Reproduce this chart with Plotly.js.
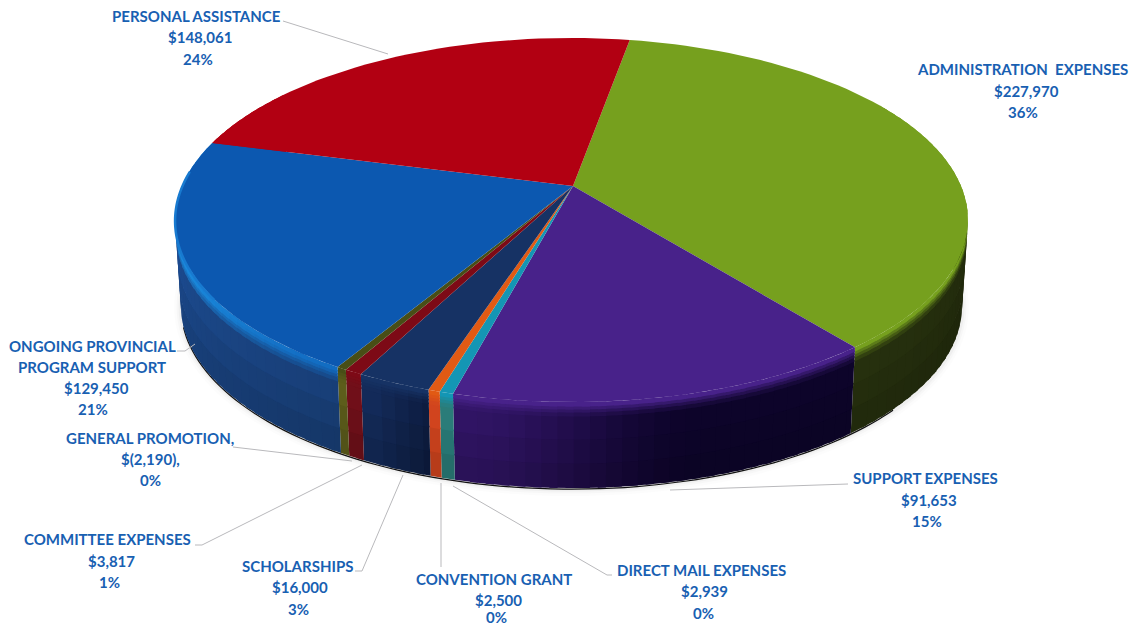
<!DOCTYPE html>
<html><head><meta charset="utf-8">
<script src="https://cdn.plot.ly/plotly-3.0.1.min.js"></script>
<style>html,body{margin:0;padding:0;background:#fff}#g{width:1135px;height:626px}</style>
</head><body><div id="g"></div>
<script>
// ---- data (clockwise from the red/green boundary)
const categories = ["ADMINISTRATION  EXPENSES","SUPPORT EXPENSES","DIRECT MAIL EXPENSES","CONVENTION GRANT","SCHOLARSHIPS","COMMITTEE EXPENSES","GENERAL PROMOTION,","ONGOING PROVINCIAL PROGRAM SUPPORT","PERSONAL ASSISTANCE"];
const values = [227970,91653,2939,2500,16000,3817,-2190,129450,148061];
const amounts = ["$227,970","$91,653","$2,939","$2,500","$16,000","$3,817","$(2,190),","$129,450","$148,061"];
const percents = ["36%","15%","0%","0%","3%","1%","0%","21%","24%"];
// ---- styles
const topColors = [[118,160,30],[72,34,138],[20,150,180],[225,90,20],[22,50,100],[125,10,22],[72,78,22],[12,88,176],[178,0,18]];
const wallFrom  = [[24,30,8],[13,4,42],[40,120,118],[205,66,30],[12,26,60],[105,14,24],[90,90,26],[24,62,118],[178,0,18]];
const wallTo    = [[38,48,14],[48,20,100],[44,128,124],[212,70,30],[20,44,92],[115,16,26],[96,96,28],[30,82,158],[178,0,18]];
// ---- projection of the tilted disc
const view = {cx:573, cy:186, rimShift:-1.5, A:389.5, B:175.7, k:0.187, depth:86, taper:0.015, start:10.2};
function pt(deg, z){
  const t = deg*Math.PI/180, u = Math.sin(t), v = Math.cos(t), w = 1+view.k*v;
  const s = 1-view.taper*z/view.depth;
  return [view.cx+view.rimShift+view.A*s*u/w, view.cy-view.B*v/w+z];
}
const mix=(a,b,f)=>a.map((c,i)=>c+(b[i]-c)*f);
const css=c=>`rgb(${c.map(Math.round).join(",")})`;
const sstep=(a,b,x)=>{const t=Math.min(1,Math.max(0,(x-a)/(b-a)));return t*t*(3-2*t)};
const total = values.reduce((s,x)=>s+Math.abs(x),0);
const traces=[];
function poly(pts,color){
  traces.push({type:"scatter",mode:"lines",x:pts.map(p=>p[0]),y:pts.map(p=>p[1]),fill:"toself",fillcolor:color,
    line:{color:color,width:0},hoverinfo:"skip",showlegend:false});
}
function path(pts,color,width){
  traces.push({type:"scatter",mode:"lines",x:pts.map(p=>p[0]),y:pts.map(p=>p[1]),line:{color:color,width:width,shape:"spline"},hoverinfo:"skip",showlegend:false});
}
// soft shadow and dark contact line below the wall
const edge=[];for(let a=70;a<=300;a+=3)edge.push(pt(a,view.depth+1));
[[14,"rgba(0,0,0,0.012)"],[9,"rgba(0,0,0,0.018)"],[5,"rgba(0,0,0,0.03)"]].forEach(d=>path(edge,d[1],d[0]));
path(edge.filter((p,i)=>i>20&&i<62),"#111",1.2);
// wedge angular ranges
let a0=view.start; const ranges=values.map(x=>{const a=a0;a0+=Math.abs(x)/total*360;return [a,a0]});
// walls: bands painted bottom first, each one overlapping the band below, so no seams show
const zBands=[[60,view.depth,0.88],[36,60,0.94],[13,36,1.0],[9,13,0.85],[6,9,0.6],[3,6,0.32],[0,3,0]];
ranges.forEach((r,i)=>{
  const lo=Math.max(r[0],60), hi=Math.min(r[1],305); if(hi<=lo) return;
  const n=Math.max(1,Math.ceil((hi-lo)/2));
  zBands.forEach((z,zi)=>{
    for(let j=0;j<n;j++){
      const a=lo+(hi-lo)*j/n, b=lo+(hi-lo)*(j+1)/n, m=(a+b)/2, f=(m-r[0])/(r[1]-r[0]);
      const wall=mix(wallFrom[i],wallTo[i],i===1?sstep(0.45,1,f):f);
      const glow=sstep(205,255,m);
      const lit=mix(topColors[i],[28,140,222],i===7?0.35+glow*0.65:0);
      let c;
      if(zi<3) c=wall.map(q=>q*z[2]);
      else {
        // blue keeps its bright edge deeper down the bevel
        const w=i===7?Math.max(0,z[2]-0.32*(0.3+glow)):z[2];
        c=mix(lit,wall,w);
      }
      const a2=j>0?a-1:a, z2=z[1]===view.depth?z[1]:z[1]+1.5;
      poly([pt(a2,z[0]),pt(b,z[0]),pt(b,z2),pt(a2,z2)],css(c));
    }
  });
});
// top face
ranges.forEach((r,i)=>{
  const pts=[[view.cx,view.cy]];
  const n=Math.max(2,Math.ceil((r[1]-r[0])/2));
  for(let j=0;j<=n;j++)pts.push(pt(r[0]+(r[1]-r[0])*j/n,0));
  pts.push([view.cx,view.cy]);
  poly(pts,css(topColors[i]));
});
// bright edge on the blue wedge
const arc=[];for(let a=235;a<=ranges[7][1]-8;a+=2)arc.push(pt(a,1));
path(arc,"rgb(24,122,208)",2.5);

// ---- label lines: [category index, text, x, y]
const lineText=[
 [0,categories[0],1022,69],[0,amounts[0],1026,91],[0,percents[0],1023,112],
 [1,categories[1],925,478],[1,amounts[1],929,500],[1,percents[1],927,521],
 [2,categories[2],701,570],[2,amounts[2],704,591],[2,percents[2],703,613],
 [3,categories[3],494,579],[3,amounts[3],498,600],[3,percents[3],496,617],
 [4,categories[4],297,566],[4,amounts[4],300,587],[4,percents[4],298,609],
 [5,categories[5],107,539],[5,amounts[5],111,561],[5,percents[5],109,582],
 [6,categories[6],150,438],[6,amounts[6],150,459],[6,percents[6],150,480],
 [7,"ONGOING PROVINCIAL",92,346],[7,"PROGRAM SUPPORT",92,367],[7,amounts[7],96,388],[7,percents[7],93,409],
 [8,categories[8],196,16],[8,amounts[8],200,37],[8,percents[8],198,59]
];
const annotations=lineText.map(l=>({xref:"x",yref:"y",x:l[2],y:l[3],text:l[1],showarrow:false,xanchor:"center",yanchor:"middle",
  font:{family:"Lato",size:15,weight:700,color:"rgb(24,96,178)"}}));
const leaders=[
 [[283,21],[388,54]],
 [[177,351],[185,351],[195,344]],
 [[233,447],[352,461]],
 [[195,545],[202,545],[362,465]],
 [[355,571],[362,571],[403,475]],
 [[441,483],[441,567]],
 [[453,486],[607,575],[612,575]],
 [[670,490],[848,484]]
];
const shapes=[];
leaders.forEach(l=>{for(let i=1;i<l.length;i++)shapes.push({type:"line",xref:"x",yref:"y",x0:l[i-1][0],y0:l[i-1][1],x1:l[i][0],y1:l[i][1],line:{color:"rgb(185,185,188)",width:1}})});

Plotly.newPlot("g",traces,{
  width:1135,height:626,margin:{l:0,r:0,t:0,b:0},paper_bgcolor:"#fff",plot_bgcolor:"#fff",showlegend:false,
  xaxis:{range:[0,1135],visible:false,fixedrange:true},
  yaxis:{range:[626,0],visible:false,fixedrange:true},
  annotations:annotations,shapes:shapes,hovermode:false
},{displayModeBar:false,staticPlot:true});
</script></body></html>
